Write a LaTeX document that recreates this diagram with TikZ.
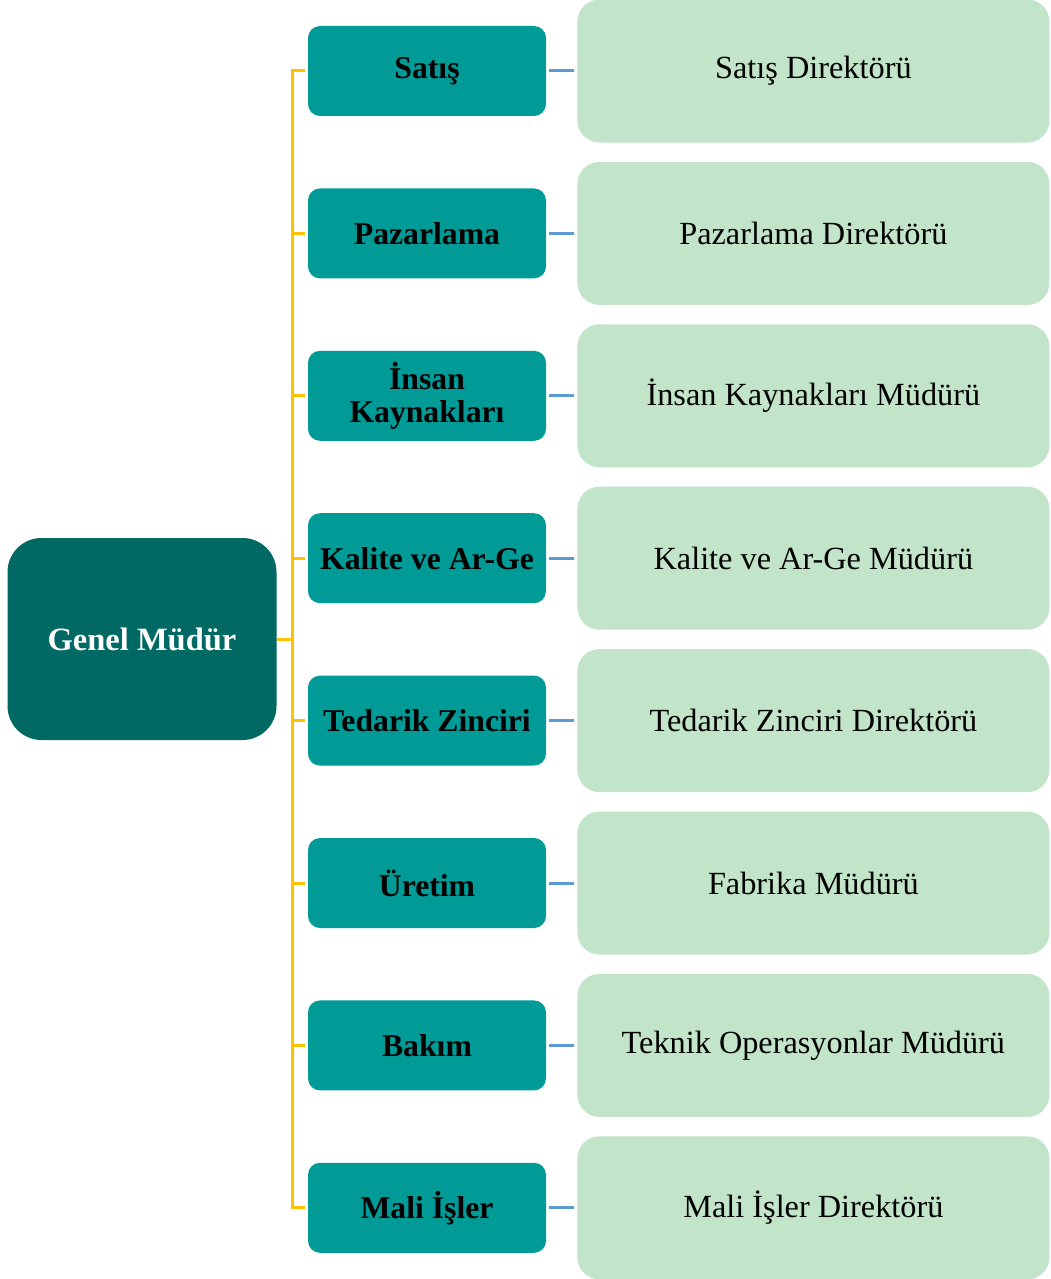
\documentclass[tikz,border=0pt]{standalone}
\usepackage{fontspec}
\setmainfont{Liberation Serif}
\usepackage{tikz}
\usetikzlibrary{positioning}

\definecolor{gmgreen}{HTML}{006964}
\definecolor{deptteal}{HTML}{009A97}
\definecolor{joblight}{HTML}{C2E4C8}
\definecolor{busyellow}{HTML}{FFC000}
\definecolor{linkblue}{HTML}{5B9BD5}

\begin{document}
\begin{tikzpicture}[
    x = 1pt, y = -1pt, % one unit is one pixel of the page
    node distance = 72pt, % gap between two department boxes
    bus/.style = {draw = busyellow, line width = 3pt},
    link/.style = {draw = linkblue, line width = 3pt, shorten < = 3pt, shorten > = 3pt}
    ]

    \tikzset{
    root/.style = {fill = gmgreen, rounded corners = 34pt, minimum width = 269pt,
        minimum height = 202pt, text = white, font = \fontsize{32.5}{34}\selectfont\bfseries},
    dept/.style = {fill = deptteal, rounded corners = 12pt, minimum width = 238pt,
        minimum height = 90pt, align = center, font = \fontsize{31.7}{33}\selectfont\bfseries},
    job/.style = {fill = joblight, rounded corners = 22pt, minimum width = 472pt,
        minimum height = 143pt, font = \fontsize{32.3}{34}\selectfont}
    }

    \useasboundingbox (0,0) rectangle (1051,1279);

    \node[root] (gm) at (142,639) {Genel Müdür};

    \node[dept] (d1) at (427,71) {Satış};
    \node[dept] (d2) [below=of d1] {Pazarlama};
    \node[dept] (d3) [below=of d2] {İnsan\\Kaynakları};
    \node[dept] (d4) [below=of d3] {Kalite ve Ar-Ge};
    \node[dept] (d5) [below=of d4] {Tedarik Zinciri};
    \node[dept] (d6) [below=of d5] {Üretim};
    \node[dept] (d7) [below=of d6] {Bakım};
    \node[dept] (d8) [below=of d7] {Mali İşler};

    \node[job] (j1) [right=31pt of d1] {Satış Direktörü};
    \node[job] (j2) [right=31pt of d2] {Pazarlama Direktörü};
    \node[job] (j3) [right=31pt of d3] {İnsan Kaynakları Müdürü};
    \node[job] (j4) [right=31pt of d4] {Kalite ve Ar-Ge Müdürü};
    \node[job] (j5) [right=31pt of d5] {Tedarik Zinciri Direktörü};
    \node[job] (j6) [right=31pt of d6] {Fabrika Müdürü};
    \node[job] (j7) [right=31pt of d7] {Teknik Operasyonlar Müdürü};
    \node[job] (j8) [right=31pt of d8] {Mali İşler Direktörü};

    % yellow bus from the general manager to every department
    \coordinate (gmbus) at ([xshift=16pt]gm.east);
    \draw[bus] (gm.east) -- (gmbus);
    \foreach \i in {1,...,8}
        \draw[bus, shorten > = 3pt] (gmbus) |- (d\i.west);

    % blue links from department to its head
    \foreach \i in {1,...,8}
        \draw[link] (d\i) -- (j\i);
\end{tikzpicture}
\end{document}
